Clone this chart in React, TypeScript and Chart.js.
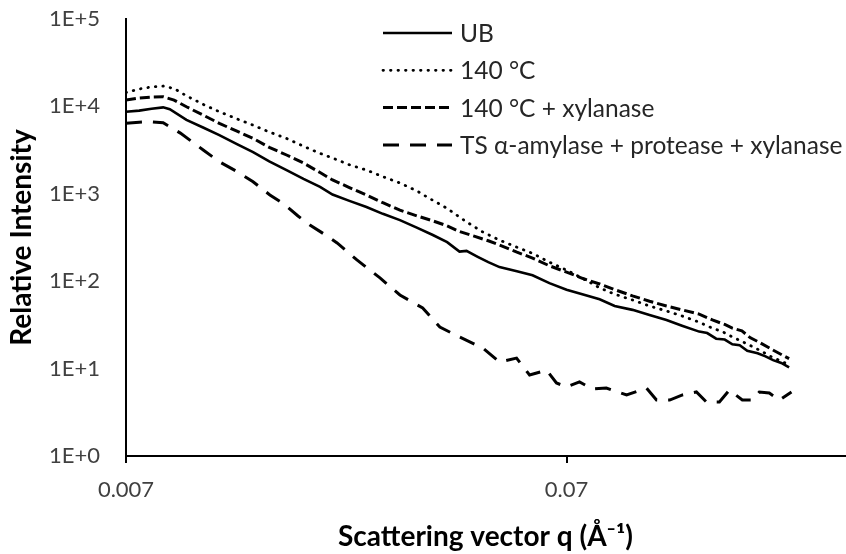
import React, { useEffect, useRef } from 'react';
import { Chart, registerables } from 'chart.js';

Chart.register(...registerables);

const seriesLabels = ['UB', '140 °C', '140 °C + xylanase', 'TS α-amylase + protease + xylanase'];

const qUB = [0.007, 0.0075, 0.008, 0.0085, 0.0088, 0.0096, 0.0105, 0.0114, 0.0125, 0.0136, 0.0148, 0.0162, 0.0177, 0.0193, 0.0206, 0.0225, 0.0246, 0.0268, 0.0293, 0.032, 0.0348, 0.0375, 0.04, 0.0415, 0.044, 0.0465, 0.0493, 0.054, 0.0586, 0.064, 0.07, 0.076, 0.0832, 0.09, 0.0988, 0.108, 0.118, 0.128, 0.14, 0.146, 0.153, 0.16, 0.1665, 0.173, 0.18, 0.19, 0.198, 0.206, 0.215, 0.224];
const iUB = [8700, 8950, 9400, 9750, 9300, 7000, 5700, 4700, 3700, 3000, 2350, 1870, 1480, 1200, 980, 830, 706, 590, 500, 410, 338, 280, 218, 222, 190, 165, 145, 130, 117, 95, 80, 71, 62, 52, 47, 41, 36, 31, 26.5, 25.5, 22, 21.5, 19, 18.5, 16, 15, 13.8, 12.5, 11.6, 10.3];

const q140 = [0.007, 0.0075, 0.008, 0.0085, 0.009, 0.0096, 0.0105, 0.0114, 0.0125, 0.0136, 0.0148, 0.0162, 0.0177, 0.0193, 0.0206, 0.0225, 0.0246, 0.0268, 0.0293, 0.032, 0.034, 0.0375, 0.0414, 0.045, 0.0493, 0.054, 0.0586, 0.064, 0.07, 0.076, 0.0832, 0.09, 0.0988, 0.108, 0.118, 0.128, 0.14, 0.15, 0.158, 0.1665, 0.175, 0.1917, 0.205, 0.215, 0.224];
const i140 = [14400, 15800, 16700, 17100, 16000, 13200, 10500, 8700, 7200, 6100, 5100, 4300, 3500, 2900, 2570, 2150, 1870, 1570, 1330, 1080, 900, 680, 480, 370, 295, 245, 208, 165, 134, 108, 84, 71, 61, 52, 45.6, 40, 34, 29, 26.5, 23, 20.5, 16.3, 13.5, 12.2, 11];

const qXyl = [0.007, 0.0075, 0.008, 0.0085, 0.009, 0.0096, 0.0105, 0.0114, 0.0125, 0.0136, 0.0148, 0.0162, 0.0177, 0.0193, 0.0206, 0.0225, 0.0246, 0.0268, 0.0293, 0.032, 0.0348, 0.0375, 0.04, 0.043, 0.0465, 0.0493, 0.054, 0.0586, 0.064, 0.07, 0.076, 0.0832, 0.09, 0.0988, 0.108, 0.118, 0.128, 0.14, 0.15, 0.16, 0.1665, 0.175, 0.183, 0.1917, 0.205, 0.215, 0.224];
const iXyl = [11800, 12500, 12800, 12900, 11800, 9900, 7900, 6400, 5200, 4300, 3400, 2780, 2250, 1750, 1440, 1180, 970, 790, 650, 560, 490, 430, 370, 330, 290, 260, 215, 184, 150, 127, 108, 93, 80, 68, 59, 52, 47, 42, 36, 32, 29, 27, 22.5, 20, 16.5, 14.5, 13];

const qTS = [0.007, 0.0075, 0.0079, 0.0085, 0.0093, 0.0105, 0.0114, 0.0125, 0.0136, 0.01485, 0.016, 0.0172, 0.0183, 0.0197, 0.0211, 0.0234, 0.0264, 0.0293, 0.033, 0.0361, 0.04, 0.0452, 0.0493, 0.0539, 0.0577, 0.0631, 0.0664, 0.07, 0.0749, 0.0802, 0.0862, 0.0958, 0.1063, 0.112, 0.12, 0.1283, 0.138, 0.1454, 0.1556, 0.164, 0.1754, 0.1849, 0.1917, 0.202, 0.2128, 0.2268];
const iTS = [6400, 6600, 6700, 6500, 4950, 3150, 2330, 1800, 1375, 970, 760, 557, 440, 347, 274, 175, 109, 69.5, 49.4, 29.9, 23, 17.2, 11.9, 13.2, 8.45, 9.6, 6.84, 6.16, 7.03, 5.84, 5.99, 4.99, 5.99, 4.37, 4.37, 5.0, 5.4, 4.15, 4.15, 5.69, 4.37, 4.37, 5.4, 5.26, 4.37, 5.4];

const xTickValues = [0.007, 0.07];
const xTickLabels = ['0.007', '0.07'];
const yTickValues = [1, 10, 100, 1000, 10000, 100000];
const yTickLabels = ['1E+0', '1E+1', '1E+2', '1E+3', '1E+4', '1E+5'];

const toPoints = (q: number[], v: number[]) => q.map((x, i) => ({ x, y: v[i] }));

const FONT = 'Lato';

const legendPlugin = {
  id: 'insideLegend',
  afterDraw(chart: any) {
    const ctx = chart.ctx as CanvasRenderingContext2D;
    const x0 = 383;
    const x1 = 452;
    const tx = 460;
    const top = 33;
    const step = 37.3;
    chart.data.datasets.forEach((ds: any, i: number) => {
      const y = top + i * step;
      ctx.save();
      ctx.strokeStyle = ds.borderColor;
      ctx.lineWidth = ds.borderWidth;
      ctx.lineCap = ds.borderCapStyle || 'butt';
      ctx.setLineDash(ds.borderDash || []);
      ctx.beginPath();
      ctx.moveTo(x0, y);
      ctx.lineTo(x1, y);
      ctx.stroke();
      ctx.setLineDash([]);
      ctx.fillStyle = '#262626';
      ctx.font = `24.5px ${FONT}`;
      ctx.textBaseline = 'middle';
      ctx.textAlign = 'left';
      ctx.fillText(ds.label, tx, y + 1);
      ctx.restore();
    });
  },
};

export default function App() {
  const ref = useRef<HTMLCanvasElement | null>(null);

  useEffect(() => {
    if (!ref.current) return;
    const chart = new Chart(ref.current, {
      type: 'scatter',
      data: {
        datasets: [
          {
            label: seriesLabels[0],
            data: toPoints(qUB, iUB),
            showLine: true,
            borderColor: '#000000',
            borderWidth: 2.6,
            pointRadius: 0,
            tension: 0,
          },
          {
            label: seriesLabels[1],
            data: toPoints(q140, i140),
            showLine: true,
            borderColor: '#000000',
            borderWidth: 2.8,
            borderDash: [0.5, 7],
            borderCapStyle: 'round',
            pointRadius: 0,
          },
          {
            label: seriesLabels[2],
            data: toPoints(qXyl, iXyl),
            showLine: true,
            borderColor: '#000000',
            borderWidth: 3,
            borderDash: [10, 4],
            pointRadius: 0,
          },
          {
            label: seriesLabels[3],
            data: toPoints(qTS, iTS),
            showLine: true,
            borderColor: '#000000',
            borderWidth: 3,
            borderDash: [16, 11],
            pointRadius: 0,
          },
        ] as any,
      },
      options: {
        animation: false,
        responsive: false,
        devicePixelRatio: 1,
        layout: { padding: { top: 19, right: 1, left: 0, bottom: 0 } },
        plugins: {
          legend: { display: false },
          tooltip: { enabled: false },
        },
        scales: {
          x: {
            type: 'logarithmic',
            min: 0.007,
            max: 0.3,
            afterFit: (s: any) => { s.height = 98; s.paddingRight = 0; },
            afterBuildTicks: (s: any) => { s.ticks = xTickValues.map((v) => ({ value: v })); },
            ticks: {
              autoSkip: false,
              maxRotation: 0,
              padding: 14,
              color: '#404040',
              font: { family: FONT, size: 22 },
              callback: (v: any) => {
                const idx = xTickValues.findIndex((t) => Math.abs(t - Number(v)) / t < 1e-6);
                return idx >= 0 ? xTickLabels[idx] : '';
              },
            },
            grid: { display: true, drawOnChartArea: false, drawTicks: true, tickLength: 7, color: '#000000', lineWidth: 2 },
            border: { display: true, color: '#000000', width: 2 },
            title: {
              display: true,
              text: 'Scattering vector q (Å⁻¹)',
              color: '#000000',
              font: { family: FONT, size: 28, weight: 'bold' },
              padding: { top: 0, bottom: 0 },
            },
          },
          y: {
            type: 'logarithmic',
            min: 1,
            max: 100000,
            afterFit: (s: any) => { s.width = 126; s.paddingTop = 0; s.paddingBottom = 0; },
            afterBuildTicks: (s: any) => { s.ticks = yTickValues.map((v) => ({ value: v })); },
            ticks: {
              autoSkip: false,
              padding: 26,
              color: '#404040',
              font: { family: FONT, size: 22 },
              callback: (v: any) => {
                const idx = yTickValues.findIndex((t) => Math.abs(t - Number(v)) / t < 1e-6);
                return idx >= 0 ? yTickLabels[idx] : '';
              },
            },
            grid: { display: false, drawTicks: false },
            border: { display: true, color: '#000000', width: 2 },
            title: {
              display: true,
              text: 'Relative Intensity',
              color: '#000000',
              font: { family: FONT, size: 28, weight: 'bold' },
              padding: { top: 5, bottom: 0 },
            },
          },
        },
      } as any,
      plugins: [legendPlugin],
    });
    return () => chart.destroy();
  }, []);

  return (
    <div style={{ position: 'absolute', left: 0, top: 0, width: 846, height: 554, background: '#ffffff' }}>
      <canvas ref={ref} width={846} height={554} style={{ display: 'block' }} />
    </div>
  );
}
